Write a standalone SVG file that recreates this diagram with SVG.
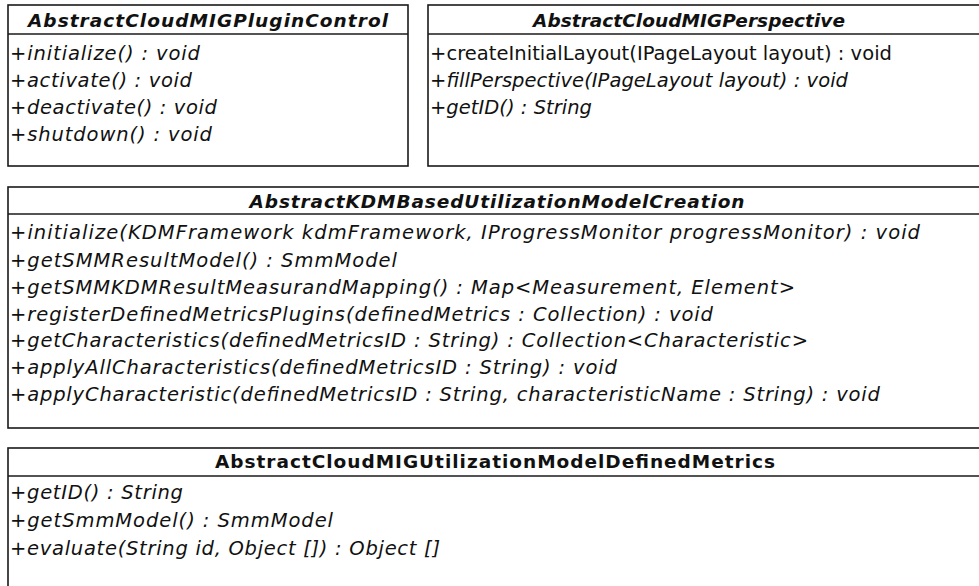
<svg xmlns="http://www.w3.org/2000/svg" width="979" height="586" viewBox="0 0 979 586">
<style>
.box{fill:#ffffff;stroke:#1a1a1a;stroke-width:1.6}
.sep{stroke:#1a1a1a;stroke-width:1.6}
text{font-family:"DejaVu Sans","Liberation Sans",sans-serif;font-size:19.5px;fill:#111}
.hd{font-size:18.5px;font-weight:bold;text-anchor:middle}
.it{font-style:italic}
</style>
<rect width="979" height="586" fill="#ffffff"/>
<g id="AbstractCloudMIGPluginControl">
<rect class="box" x="8" y="5" width="400" height="161"/>
<line class="sep" x1="8" y1="34" x2="408" y2="34"/>
<text class="hd it" x="208" y="27" textLength="360">AbstractCloudMIGPluginControl</text>
<text class="it" x="10" y="60" textLength="190">+initialize() : void</text>
<text class="it" x="10" y="87" textLength="182">+activate() : void</text>
<text class="it" x="10" y="114" textLength="207">+deactivate() : void</text>
<text class="it" x="10" y="141" textLength="202">+shutdown() : void</text>
</g>
<g id="AbstractCloudMIGPerspective">
<rect class="box" x="428" y="5" width="600" height="161"/>
<line class="sep" x1="428" y1="34" x2="1028" y2="34"/>
<text class="hd it" x="689" y="27" textLength="312">AbstractCloudMIGPerspective</text>
<text x="430" y="60" textLength="462">+createInitialLayout(IPageLayout layout) : void</text>
<text class="it" x="430" y="87" textLength="418">+fillPerspective(IPageLayout layout) : void</text>
<text class="it" x="430" y="114" textLength="162">+getID() : String</text>
</g>
<g id="AbstractKDMBasedUtilizationModelCreation">
<rect class="box" x="8" y="187" width="1000" height="241"/>
<line class="sep" x1="8" y1="214" x2="1008" y2="214"/>
<text class="hd it" x="497" y="208" textLength="495">AbstractKDMBasedUtilizationModelCreation</text>
<text class="it" x="10" y="239" textLength="910">+initialize(KDMFramework kdmFramework, IProgressMonitor progressMonitor) : void</text>
<text class="it" x="10" y="267" textLength="387">+getSMMResultModel() : SmmModel</text>
<text class="it" x="10" y="294" textLength="785">+getSMMKDMResultMeasurandMapping() : Map&lt;Measurement, Element&gt;</text>
<text class="it" x="10" y="321" textLength="703">+registerDefinedMetricsPlugins(definedMetrics : Collection) : void</text>
<text class="it" x="10" y="347" textLength="798">+getCharacteristics(definedMetricsID : String) : Collection&lt;Characteristic&gt;</text>
<text class="it" x="10" y="374" textLength="607">+applyAllCharacteristics(definedMetricsID : String) : void</text>
<text class="it" x="10" y="401" textLength="870">+applyCharacteristic(definedMetricsID : String, characteristicName : String) : void</text>
</g>
<g id="AbstractCloudMIGUtilizationModelDefinedMetrics">
<rect class="box" x="8" y="448" width="1000" height="200"/>
<line class="sep" x1="8" y1="476" x2="1008" y2="476"/>
<text class="hd" x="495" y="468" textLength="560">AbstractCloudMIGUtilizationModelDefinedMetrics</text>
<text class="it" x="10" y="499" textLength="173">+getID() : String</text>
<text class="it" x="10" y="527" textLength="323">+getSmmModel() : SmmModel</text>
<text class="it" x="10" y="555" textLength="430">+evaluate(String id, Object []) : Object []</text>
</g>
<g id="connectors"></g>
</svg>
